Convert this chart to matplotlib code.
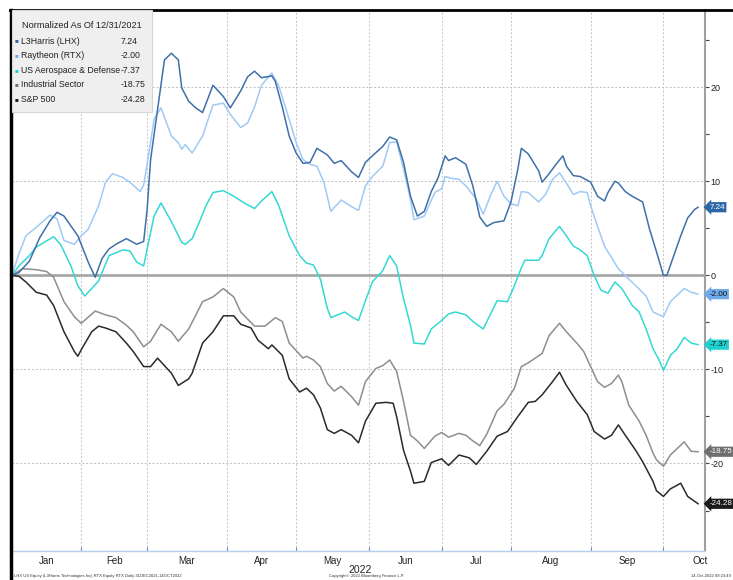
import matplotlib.pyplot as plt
from matplotlib.lines import Line2D
from matplotlib.patches import Rectangle

plt.rcParams['font.family'] = ['Liberation Sans', 'DejaVu Sans']
plt.rcParams['axes.unicode_minus'] = False

# trading days since 12/31/2021 and normalized % change
lhx_day = [0, 2, 5, 8, 11, 13, 15, 19, 22, 24, 26, 28, 30, 33, 36, 38, 39, 40, 42, 44,
           46, 48, 49, 51, 53, 55, 58, 61, 63, 66, 68, 70, 72, 75, 76, 78, 80, 82, 84, 86,
           88, 91, 93, 95, 98, 100, 102, 104, 107, 109, 111, 113, 115, 117, 119, 121, 123,
           125, 126, 128, 131, 133, 135, 137, 139, 142, 144, 146, 147, 149, 152, 153, 155,
           157, 159, 160, 162, 164, 165, 167, 169, 171, 172, 174, 175, 177, 179, 182, 184,
           186, 188, 189, 191, 193, 195, 197, 198]
lhx = [0, 0.3, 1.5, 4.0, 5.8, 6.7, 6.3, 4.2, 1.4, -0.2, 1.8, 2.8, 3.3, 3.9, 3.3, 3.6, 7.0,
       12.3, 17.6, 22.9, 23.6, 22.9, 19.9, 18.5, 17.8, 17.3, 20.2, 19.0, 17.8, 19.6, 21.1,
       21.7, 21.0, 21.2, 20.6, 17.9, 14.8, 13.0, 11.9, 12.0, 13.5, 12.8, 11.9, 12.2, 11.0,
       10.4, 12.0, 12.7, 13.7, 14.7, 14.4, 12.0, 8.4, 6.3, 6.8, 8.9, 10.4, 12.7, 12.2, 12.5,
       11.8, 9.5, 6.2, 5.2, 5.6, 5.8, 7.8, 11.3, 13.5, 12.9, 11.1, 9.9, 10.8, 11.8, 12.7,
       11.6, 10.6, 10.5, 10.3, 9.9, 8.4, 7.9, 8.8, 10.0, 9.8, 8.9, 8.4, 7.8, 4.9, 2.5, 0.0,
       0.0, 2.1, 4.2, 6.1, 7.0, 7.24]

rtx_day = [0, 2, 4, 7, 11, 13, 15, 18, 20, 22, 25, 27, 29, 32, 34, 37, 38, 40, 41, 43, 46,
           48, 49, 50, 52, 55, 58, 61, 63, 66, 68, 70, 72, 75, 77, 80, 82, 84, 86, 88, 90,
           92, 95, 98, 100, 102, 104, 107, 109, 111, 113, 115, 116, 119, 122, 124, 125, 127,
           129, 131, 134, 136, 138, 140, 142, 144, 146, 147, 149, 152, 154, 156, 158, 160,
           162, 164, 166, 167, 169, 171, 173, 175, 178, 180, 183, 185, 188, 190, 194, 196, 198]
rtx = [0, 2.3, 4.2, 5.1, 6.4, 6.0, 3.7, 3.3, 4.2, 4.9, 7.4, 9.9, 10.8, 10.4, 9.9, 8.9, 9.6,
       14.1, 16.6, 17.8, 14.8, 14.1, 13.4, 13.9, 13.0, 14.8, 18.1, 18.3, 17.1, 15.7, 16.2,
       17.9, 20.2, 21.5, 20.1, 16.6, 14.1, 12.3, 11.8, 11.6, 9.9, 6.8, 8.0, 7.3, 6.9, 9.5,
       10.5, 11.6, 14.1, 14.2, 11.3, 8.1, 5.9, 6.3, 8.8, 9.2, 10.5, 10.3, 10.2, 9.5, 8.1, 6.5,
       8.4, 10.0, 8.4, 7.6, 7.4, 8.9, 8.8, 7.8, 8.6, 10.2, 10.9, 9.8, 8.6, 8.9, 8.8, 7.4, 5.2,
       3.1, 1.9, 0.7, -0.4, -1.1, -2.2, -3.9, -4.4, -2.8, -1.4, -1.8, -2.00]

ad_day = [0, 2, 5, 7, 12, 14, 17, 19, 21, 25, 28, 32, 34, 36, 38, 39, 41, 43, 46, 49, 50,
          52, 54, 56, 58, 61, 64, 67, 70, 72, 75, 77, 80, 83, 85, 87, 89, 91, 92, 96, 98, 100,
          102, 104, 107, 109, 111, 113, 115, 116, 119, 121, 124, 126, 128, 131, 133, 136, 138,
          140, 143, 145, 147, 148, 152, 153, 155, 158, 160, 162, 164, 166, 168, 170, 172, 174,
          176, 179, 181, 183, 185, 187, 188, 190, 192, 194, 196, 198]
ad = [0, 1.0, 2.1, 3.0, 4.1, 3.3, 1.0, -1.1, -2.2, -0.6, 2.1, 2.7, 2.6, 1.4, 1.0, 2.8, 6.3,
      7.7, 5.7, 3.5, 3.3, 3.9, 5.6, 7.4, 8.8, 9.0, 8.4, 7.7, 7.1, 7.9, 8.9, 7.4, 4.2, 2.1, 1.3,
      1.1, -0.4, -3.5, -4.5, -3.9, -4.4, -4.8, -2.7, -0.7, 0.5, 2.1, 1.0, -2.5, -5.3, -7.2,
      -7.3, -5.7, -4.8, -4.1, -3.9, -4.2, -4.9, -5.7, -4.2, -2.7, -2.8, -1.1, 0.8, 1.6, 1.6,
      2.1, 3.9, 5.2, 4.2, 3.1, 2.7, 2.1, 0.0, -1.6, -1.9, -0.7, -1.4, -3.2, -3.9, -5.7, -7.8,
      -9.2, -10.1, -8.5, -7.8, -6.6, -7.2, -7.37]

ind_day = [0, 3, 7, 10, 12, 15, 18, 20, 24, 27, 30, 33, 35, 38, 40, 43, 46, 48, 51, 55, 58,
           61, 64, 66, 70, 73, 76, 78, 80, 84, 85, 87, 89, 91, 93, 95, 98, 100, 102, 105, 107,
           109, 111, 113, 115, 117, 119, 122, 124, 126, 129, 131, 133, 135, 137, 140, 142, 145,
           147, 149, 153, 155, 158, 160, 163, 165, 167, 169, 171, 173, 175, 176, 178, 181, 183,
           185, 186, 188, 190, 194, 196, 198]
ind = [0, 0.7, 0.6, 0.4, -0.2, -2.8, -4.4, -5.1, -3.8, -4.2, -4.5, -5.3, -6.0, -7.6, -7.0,
       -5.2, -6.0, -7.0, -5.7, -2.8, -2.3, -1.4, -2.3, -3.9, -5.4, -5.4, -4.5, -4.9, -7.2,
       -8.8, -8.6, -9.0, -9.7, -11.5, -12.3, -11.8, -12.9, -13.8, -11.3, -9.9, -9.6, -9.0,
       -10.2, -13.4, -17.0, -17.6, -18.4, -17.1, -16.7, -17.2, -16.8, -17.0, -17.6, -18.1,
       -16.9, -14.4, -13.7, -12.0, -9.7, -9.3, -8.3, -6.4, -5.1, -6.0, -7.2, -8.1, -9.7,
       -11.3, -11.9, -11.5, -10.6, -11.3, -13.8, -15.5, -17.0, -18.9, -19.6, -20.3, -19.1,
       -17.7, -18.7, -18.75]

spx_day = [0, 2, 4, 7, 10, 12, 15, 18, 19, 20, 23, 25, 27, 30, 33, 35, 38, 40, 42, 46, 48,
           51, 52, 55, 58, 61, 64, 66, 69, 71, 74, 75, 78, 80, 83, 85, 87, 89, 91, 93, 95, 98,
           100, 102, 105, 108, 110, 111, 113, 115, 116, 119, 121, 124, 126, 129, 132, 134, 137,
           140, 143, 146, 149, 151, 153, 156, 158, 160, 163, 166, 168, 171, 173, 175, 177, 180,
           182, 185, 186, 188, 190, 193, 195, 198]
spx = [0, -0.1, -0.7, -1.8, -2.1, -3.2, -6.0, -8.1, -8.6, -7.9, -6.0, -5.4, -5.6, -6.0, -7.2,
       -8.1, -9.7, -9.7, -8.8, -10.4, -11.7, -11.0, -10.4, -7.2, -6.0, -4.3, -4.3, -5.2, -5.6,
       -6.9, -7.8, -7.4, -8.5, -11.0, -12.4, -12.0, -12.7, -14.1, -16.4, -16.8, -16.4, -17.0,
       -17.8, -15.5, -13.6, -13.5, -13.6, -15.0, -18.6, -20.8, -22.1, -21.9, -19.9, -19.5,
       -20.2, -19.1, -19.4, -20.1, -18.7, -17.1, -16.6, -15.0, -13.5, -13.4, -12.7, -11.3,
       -10.3, -11.7, -13.4, -14.8, -16.6, -17.4, -17.0, -15.9, -17.0, -18.6, -19.8, -21.9,
       -22.9, -23.5, -22.7, -22.1, -23.5, -24.28]

names = ['L3Harris (LHX)', 'Raytheon (RTX)', 'US Aerospace & Defense',
         'Industrial Sector', 'S&P 500']
days = [lhx_day, rtx_day, ad_day, ind_day, spx_day]
series = [lhx, rtx, ad, ind, spx]
colors = ['#3f70a8', '#9fcaf5', '#35d8d3', '#8e8e8e', '#2a2a2a']
tag_colors = ['#2d68a6', '#6eaaea', '#1ed0d0', '#6f6f6f', '#1a1a1a']
tag_text = ['white', '#111111', '#111111', 'white', 'white']

months = ['Jan', 'Feb', 'Mar', 'Apr', 'May', 'Jun', 'Jul', 'Aug', 'Sep', 'Oct']
month_start = [0, 20, 39, 62, 82, 103, 124, 144, 167, 188, 209]

W, H = 733, 580
fig = plt.figure(figsize=(W / 100, H / 100), dpi=100)
ax = fig.add_axes([12 / W, 1 - 551 / H, (705 - 12) / W, (551 - 10) / H])

ax.set_xlim(0, 200)
ax.set_ylim(-29.3, 28.2)

# grid
for y in [-20, -10, 10, 20]:
    ax.axhline(y, color='#bcbcbc', lw=0.7, ls=(0, (2, 2)), zorder=1)
for b in month_start[1:10]:
    ax.axvline(b, color='#c4c4c4', lw=0.7, ls=(0, (2, 2)), zorder=1)
ax.axhline(0, color='#a8a8a8', lw=2, zorder=1)

# lines
for i in [4, 3, 2, 1, 0]:
    ax.plot(days[i], series[i], color=colors[i], lw=1.1, zorder=3)

# spines and ticks
for s in ['left', 'top']:
    ax.spines[s].set_visible(False)
ax.spines['right'].set_color('#a0a0a0')
ax.spines['right'].set_linewidth(1.5)
ax.spines['bottom'].set_color('#b3d0f0')
ax.spines['bottom'].set_linewidth(1)

ax.yaxis.tick_right()
ax.set_yticks([-20, -10, 0, 10, 20])
ax.set_yticks([-25, -15, -5, 5, 15, 25], minor=True)
ax.tick_params(axis='y', which='both', length=3, width=0.8, color='#444444',
               labelsize=6.5, labelcolor='#222222', pad=1)
ax.set_xticks(month_start[1:10])
ax.set_xticklabels([])
ax.tick_params(axis='x', length=3, width=0.8, color='#6a8fc0', direction='in')

for k, m in enumerate(months):
    mid = (month_start[k] + month_start[k + 1]) / 2
    ax.text(mid, -0.01, m, transform=ax.get_xaxis_transform(), ha='center', va='top',
            fontsize=7, color='#222222')
fig.text(360 / W, 1 - 570 / H, '2022', ha='center', va='center', fontsize=7.5, color='#222222')

# last value tags
for i in range(5):
    ax.annotate(f'{series[i][-1]:.2f}', xy=(1, series[i][-1]),
                xycoords=('axes fraction', 'data'), xytext=(3, 0),
                textcoords='offset points', ha='left', va='center', fontsize=5.8,
                color=tag_text[i], annotation_clip=False, zorder=5,
                bbox=dict(boxstyle='larrow,pad=0.2', fc=tag_colors[i], ec='none'))

# legend box
fig.patches.append(Rectangle((12 / W, 1 - 112 / H), 140 / W, 102 / H, transform=fig.transFigure,
                             fc='#efefef', ec='#d5d5d5', lw=0.8, zorder=4))
fig.text(22 / W, 1 - 25 / H, 'Normalized As Of 12/31/2021', ha='left', va='center',
         fontsize=6.6, color='#222222', zorder=5)
for i in range(5):
    yy = 1 - (41 + 14.6 * i) / H
    fig.text(15 / W, yy, '■', ha='left', va='center', fontsize=4.5, color=tag_colors[i], zorder=5)
    fig.text(21 / W, yy, names[i], ha='left', va='center', fontsize=6.3, color='#222222', zorder=5)
    fig.text(121 / W, yy, f'{series[i][-1]:.2f}', ha='left', va='center', fontsize=6.3,
             color='#222222', zorder=5)

# outer frame
fig.lines.append(Line2D([11 / W, 11 / W], [0, 1 - 10 / H], transform=fig.transFigure,
                        color='black', lw=2.5))
fig.lines.append(Line2D([10 / W, 1], [1 - 10 / H, 1 - 10 / H], transform=fig.transFigure,
                        color='black', lw=2))

# footer
fig.text(14 / W, 2 / H, 'LHX US Equity (L3Harris Technologies Inc) RTX Equity RTX Daily 31DEC2021-14OCT2022',
         fontsize=3, color='#333333', va='bottom')
fig.text(0.5, 2 / H, 'Copyright\u00a9 2022 Bloomberg Finance L.P.', fontsize=3,
         color='#333333', va='bottom', ha='center')
fig.text(1 - 2 / W, 2 / H, '14-Oct-2022 09:23:49', fontsize=3, color='#333333',
         va='bottom', ha='right')

fig.savefig('out.png', dpi=100)
